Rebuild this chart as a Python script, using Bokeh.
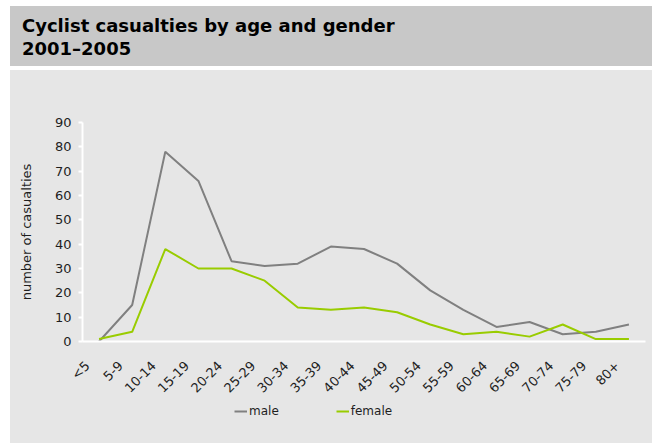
from bokeh.plotting import figure
from bokeh.models import (Range1d, Legend, LegendItem, Spacer, Div,
                          FixedTicker, CustomJSTickFormatter)
from bokeh.layouts import column, row
from bokeh.embed import file_html
from bokeh.resources import INLINE

# ---- data ----
age_groups = ["<5", "5-9", "10-14", "15-19", "20-24", "25-29", "30-34", "35-39",
              "40-44", "45-49", "50-54", "55-59", "60-64", "65-69", "70-74",
              "75-79", "80+"]
male = [0, 15, 78, 66, 33, 31, 32, 39, 38, 32, 21, 13, 6, 8, 3, 4, 7]
female = [1, 4, 38, 30, 30, 25, 14, 13, 14, 12, 7, 3, 4, 2, 7, 1, 1]
y_ticks = [0, 10, 20, 30, 40, 50, 60, 70, 80, 90]
series_names = ["male", "female"]
series_colors = ["#808080", "#99cc00"]
title_line1 = "Cyclist casualties by age and gender"
title_line2 = "2001\u20132005"

FONT = "DejaVu Sans"
TEXT_COLOR = "#1e1e1e"
PANEL = "#e6e6e6"
BAND = "#c8c8c8"

# ---- title band ----
title_div = Div(
    text=('<div style="padding:8px 0 0 12px; font-family:\'DejaVu Sans\'; '
          'font-weight:bold; font-size:18px; line-height:23px; color:#000; '
          'white-space:nowrap;">' + title_line1 + '<br>' + title_line2 + '</div>'),
    width=642, height=60,
    styles={"background-color": BAND, "overflow": "hidden", "margin": "0"})

# ---- main chart ----
n = len(age_groups)
idx = list(range(n))          # category index of each age group
series = [male, female]
p = figure(width=642, height=333, output_backend="svg", toolbar_location=None,
           x_range=Range1d(-0.5, n - 0.5), y_range=Range1d(0, 90),
           min_border_left=72, min_border_right=7, min_border_top=52,
           min_border_bottom=60)
p.background_fill_color = PANEL
p.border_fill_color = PANEL
p.outline_line_color = None
p.grid.visible = False

for vals, c in zip(series, series_colors):
    p.line(idx, vals, line_color=c, line_width=2)

# y axis
yax = p.yaxis[0]
yax.ticker = y_ticks
yax.axis_line_color = "white"
yax.axis_line_width = 2
yax.major_tick_line_color = "white"
yax.major_tick_line_width = 2
yax.major_tick_out = 4
yax.major_tick_in = 0
yax.minor_tick_line_color = None
yax.major_label_text_font = FONT
yax.major_label_text_font_size = "13px"
yax.major_label_text_color = TEXT_COLOR
yax.major_label_standoff = 7
yax.axis_label = "number of casualties"
yax.axis_label_text_font = FONT
yax.axis_label_text_font_size = "13px"
yax.axis_label_text_font_style = "normal"
yax.axis_label_text_color = TEXT_COLOR
yax.axis_label_standoff = 18

# x axis: category labels, anchored Excel-style a little left of each category centre
label_shift = 0.35
xax = p.xaxis[0]
xax.ticker = FixedTicker(ticks=[i - label_shift for i in idx])
xax.formatter = CustomJSTickFormatter(
    args=dict(labels=age_groups, shift=label_shift),
    code="return labels[Math.round(tick + shift)];")
xax.axis_line_color = "white"
xax.axis_line_width = 2
xax.major_tick_line_color = None
xax.minor_tick_line_color = None
xax.major_tick_out = 0
xax.major_tick_in = 0
xax.major_label_text_font = FONT
xax.major_label_text_font_size = "13px"
xax.major_label_text_color = TEXT_COLOR
xax.major_label_orientation = 0.785398
xax.major_label_standoff = 22

# ---- legend strip (same panel colour, below the chart) ----
# the key renderers carry the series but their view range lies below all data,
# so only their legend swatches are visible
lf = figure(width=642, height=40, output_backend="svg", toolbar_location=None,
            x_axis_location=None, y_axis_location=None,
            x_range=Range1d(-0.5, n - 0.5), y_range=Range1d(-3, -2),
            min_border_left=72, min_border_right=7, min_border_top=0,
            min_border_bottom=0)
lf.background_fill_alpha = 0
lf.border_fill_color = PANEL
lf.outline_line_color = None
lf.grid.visible = False
keys = [lf.line(idx, vals, line_color=c, line_width=2)
        for vals, c in zip(series, series_colors)]
legend = Legend(items=[LegendItem(label=nm, renderers=[r])
                       for nm, r in zip(series_names, keys)],
                orientation="horizontal", location=(152, 25),
                background_fill_alpha=0, border_line_alpha=0,
                padding=0, margin=0, spacing=57,
                glyph_width=13, glyph_height=14, label_height=14,
                label_standoff=2, label_text_font=FONT,
                label_text_font_size="12px", label_text_color=TEXT_COLOR)
lf.add_layout(legend, "center")

chart = column(p, lf, styles={"background-color": PANEL})
layout = column(Spacer(height=6),
                row(Spacer(width=10), column(title_div, Spacer(height=4), chart)))

open("out.html", "w").write(file_html(layout, INLINE))
